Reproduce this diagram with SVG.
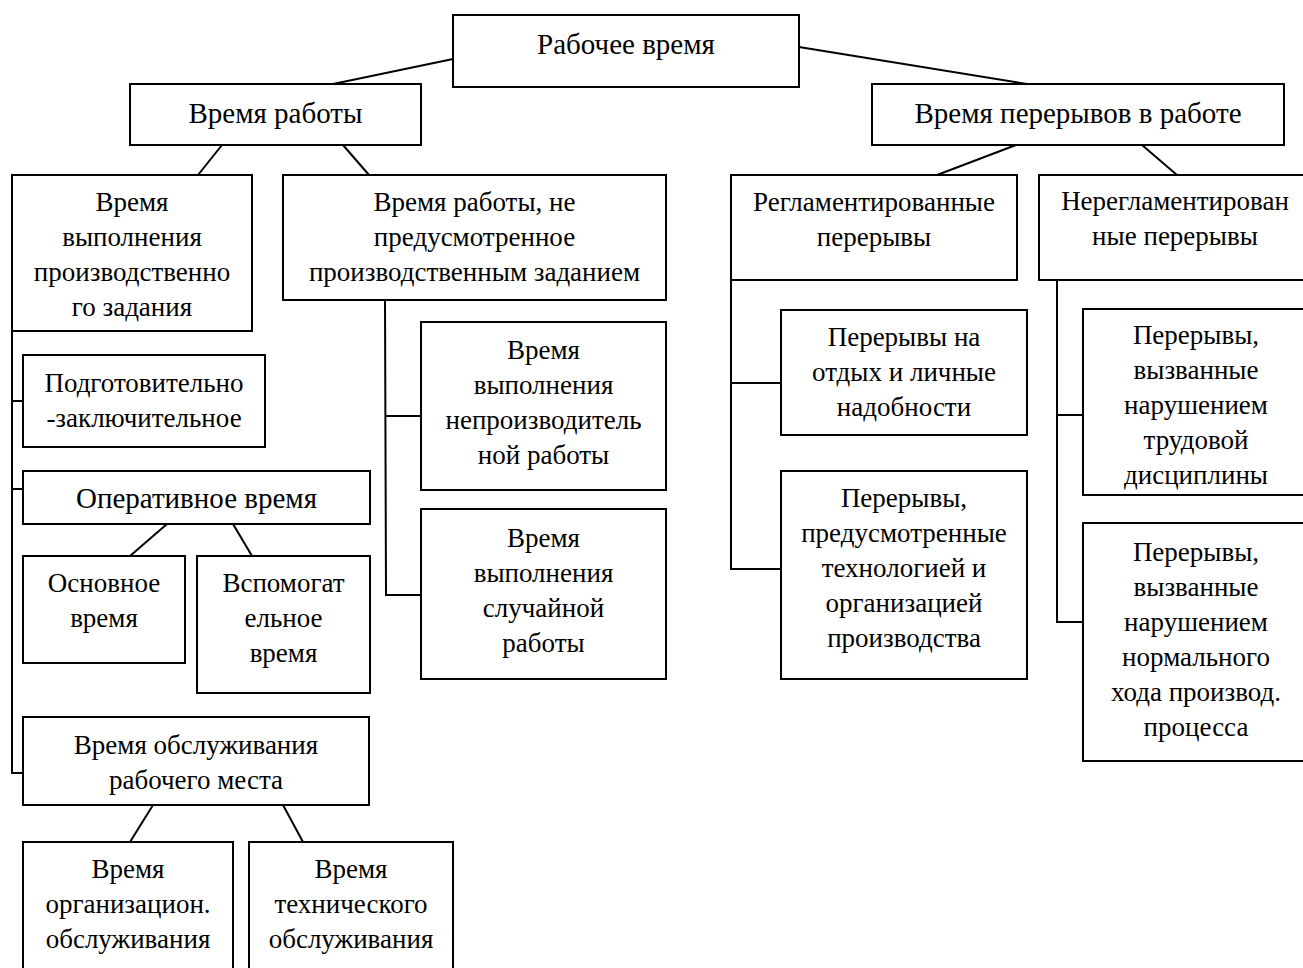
<svg xmlns="http://www.w3.org/2000/svg" width="1303" height="968" viewBox="0 0 1303 968">
<style>
rect{fill:#fff;stroke:#000;stroke-width:2}
.c line,.c path{stroke:#000;stroke-width:2;fill:none}
text{font-family:"Liberation Serif","Times New Roman",serif;font-size:27px;fill:#000;text-anchor:middle}
.big{font-size:29px}
</style>
<rect x="0" y="0" width="1303" height="968" style="fill:#fff;stroke:none"/>
<g class="c" id="connectors">
<line x1="453" y1="59" x2="333" y2="84"/>
<line x1="799" y1="47" x2="1027" y2="84"/>
<line x1="222" y1="145" x2="198" y2="175"/>
<line x1="343" y1="145" x2="369" y2="175"/>
<line x1="1016" y1="145" x2="937" y2="175"/>
<line x1="1142" y1="145" x2="1177" y2="175"/>
<path d="M12,331 V773 H23 M12,401 H23 M12,489 H23"/>
<path d="M385,300 L386,595 H421 M385,416 H421"/>
<path d="M731,280 V569 H781 M731,383 H781"/>
<path d="M1057,280 V622 H1083 M1057,415 H1083"/>
<line x1="167" y1="524" x2="130" y2="556"/>
<line x1="233" y1="524" x2="252" y2="556"/>
<line x1="153" y1="805" x2="130" y2="842"/>
<line x1="283" y1="805" x2="303" y2="842"/>
</g>
<g id="root"><rect x="453" y="15" width="346" height="72"/><text class="big" x="626" y="54">Рабочее время</text></g>
<g id="work"><rect x="130" y="84" width="291" height="61"/><text class="big" x="275.5" y="123">Время работы</text></g>
<g id="breaks"><rect x="872" y="84" width="412" height="61"/><text class="big" x="1078" y="123">Время перерывов в работе</text></g>
<g id="task"><rect x="12" y="175" width="240" height="156"/><text x="132" y="211">Время</text><text x="132" y="246">выполнения</text><text x="132" y="281">производственно</text><text x="132" y="316">го задания</text></g>
<g id="nontask"><rect x="283" y="175" width="383" height="125"/><text x="474.5" y="211">Время работы, не</text><text x="474.5" y="246">предусмотренное</text><text x="474.5" y="281">производственным заданием</text></g>
<g id="prep"><rect x="23" y="355" width="242" height="92"/><text x="144" y="392">Подготовительно</text><text x="144" y="427">-заключительное</text></g>
<g id="oper"><rect x="23" y="471" width="347" height="53"/><text class="big" x="196.5" y="508">Оперативное время</text></g>
<g id="main"><rect x="23" y="556" width="162" height="107"/><text x="104" y="592">Основное</text><text x="104" y="627">время</text></g>
<g id="aux"><rect x="197" y="556" width="173" height="137"/><text x="283.5" y="592">Вспомогат</text><text x="283.5" y="627">ельное</text><text x="283.5" y="662">время</text></g>
<g id="service"><rect x="23" y="717" width="346" height="88"/><text x="196" y="754">Время обслуживания</text><text x="196" y="789">рабочего места</text></g>
<g id="orgserv"><rect x="23" y="842" width="210" height="140"/><text x="128" y="878">Время</text><text x="128" y="913">организацион.</text><text x="128" y="948">обслуживания</text></g>
<g id="techserv"><rect x="249" y="842" width="204" height="140"/><text x="351" y="878">Время</text><text x="351" y="913">технического</text><text x="351" y="948">обслуживания</text></g>
<g id="unprod"><rect x="421" y="322" width="245" height="168"/><text x="543.5" y="359">Время</text><text x="543.5" y="394">выполнения</text><text x="543.5" y="429">непроизводитель</text><text x="543.5" y="464">ной работы</text></g>
<g id="random"><rect x="421" y="509" width="245" height="170"/><text x="543.5" y="547">Время</text><text x="543.5" y="582">выполнения</text><text x="543.5" y="617">случайной</text><text x="543.5" y="652">работы</text></g>
<g id="reg"><rect x="731" y="175" width="286" height="105"/><text x="874" y="211">Регламентированные</text><text x="874" y="246">перерывы</text></g>
<g id="unreg"><rect x="1039" y="175" width="280" height="105"/><text x="1175" y="210">Нерегламентирован</text><text x="1175" y="245">ные перерывы</text></g>
<g id="rest"><rect x="781" y="310" width="246" height="125"/><text x="904" y="346">Перерывы на</text><text x="904" y="381">отдых и личные</text><text x="904" y="416">надобности</text></g>
<g id="tech"><rect x="781" y="471" width="246" height="208"/><text x="904" y="507">Перерывы,</text><text x="904" y="542">предусмотренные</text><text x="904" y="577">технологией и</text><text x="904" y="612">организацией</text><text x="904" y="647">производства</text></g>
<g id="discipline"><rect x="1083" y="309" width="227" height="186"/><text x="1196" y="344">Перерывы,</text><text x="1196" y="379">вызванные</text><text x="1196" y="414">нарушением</text><text x="1196" y="449">трудовой</text><text x="1196" y="484">дисциплины</text></g>
<g id="process"><rect x="1083" y="523" width="227" height="238"/><text x="1196" y="561">Перерывы,</text><text x="1196" y="596">вызванные</text><text x="1196" y="631">нарушением</text><text x="1196" y="666">нормального</text><text x="1196" y="701">хода производ.</text><text x="1196" y="736">процесса</text></g>
</svg>
